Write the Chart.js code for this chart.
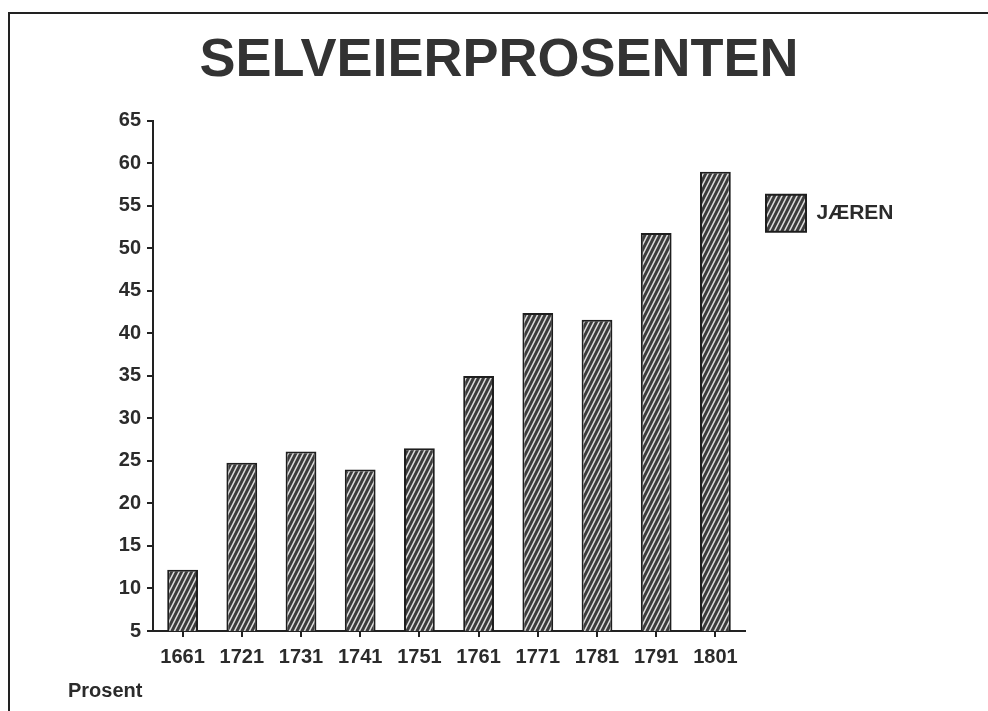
<!DOCTYPE html>
<html>
<head>
<meta charset="utf-8">
<script src="https://cdn.jsdelivr.net/npm/chart.js@4.4.1/dist/chart.umd.min.js"></script>
<style>
  html, body { margin: 0; padding: 0; background: #fff; }
  #wrap { width: 988px; height: 711px; position: relative; }
</style>
</head>
<body>
<div id="wrap"><canvas id="c" width="988" height="711"></canvas></div>
<script>
const titleText = 'SELVEIERPROSENTEN';
const categories = ['1661', '1721', '1731', '1741', '1751', '1761', '1771', '1781', '1791', '1801'];
const seriesName = 'JÆREN';
const values = [12.2, 24.8, 26.1, 24.0, 26.5, 35.0, 42.4, 41.6, 51.8, 59.0];
const yTicks = { min: 5, max: 65, step: 5 };
const axisNote = 'Prosent';

const ink = '#2b2b2b';
const fontFam = '"Liberation Sans", Arial, Helvetica, sans-serif';

function makeHatch() {
  const w = 5, h = 10;
  const p = document.createElement('canvas');
  p.width = w; p.height = h;
  const g = p.getContext('2d');
  g.fillStyle = '#3c3c3c';
  g.fillRect(0, 0, w, h);
  g.strokeStyle = '#dcdcdc';
  g.lineWidth = 1.5;
  g.beginPath();
  for (const dx of [-w, 0, w]) {
    g.moveTo(dx - 0.5, h + 1);
    g.lineTo(dx + w + 0.5, -1);
  }
  g.stroke();
  return document.getElementById('c').getContext('2d').createPattern(p, 'repeat');
}

const framePlugin = {
  id: 'frame',
  beforeDraw(chart) {
    const ctx = chart.ctx;
    ctx.save();
    ctx.fillStyle = '#fff';
    ctx.fillRect(0, 0, chart.width, chart.height);
    ctx.strokeStyle = '#222';
    ctx.lineWidth = 2;
    ctx.beginPath();
    ctx.moveTo(9, 711);
    ctx.lineTo(9, 13);
    ctx.lineTo(988, 13);
    ctx.stroke();
    ctx.restore();
  }
};

const legendWidthPlugin = {
  id: 'legendWidth',
  beforeLayout(chart) {
    const lg = chart.legend;
    if (lg && !lg._wrappedFit) {
      const f = lg.fit;
      lg.fit = function () { f.call(this); this.width = 185; };
      lg._wrappedFit = true;
    }
  }
};

Chart.defaults.font.family = fontFam;
Chart.defaults.color = ink;

new Chart(document.getElementById('c'), {
  type: 'bar',
  data: {
    labels: categories,
    datasets: [{
      label: seriesName,
      data: values,
      backgroundColor: makeHatch(),
      borderColor: '#1e1e1e',
      borderWidth: 2,
      borderSkipped: false,
      barPercentage: 0.52,
      categoryPercentage: 1.0
    }]
  },
  options: {
    responsive: false,
    animation: false,
    devicePixelRatio: 1,
    layout: { padding: { left: 68, right: 58, top: 29, bottom: 6 } },
    plugins: {
      title: {
        display: true,
        text: titleText,
        color: '#333',
        font: { size: 54, weight: 'bold', family: fontFam },
        padding: { top: 0, bottom: 27 }
      },
      subtitle: {
        display: true,
        text: axisNote,
        position: 'bottom',
        align: 'start',
        color: ink,
        font: { size: 20, weight: 'bold', family: fontFam },
        padding: { top: 2, bottom: 2 }
      },
      legend: {
        display: true,
        position: 'right',
        align: 'start',
        fullSize: false,
        title: { display: true, text: '', font: { size: 10 }, padding: { top: 0, bottom: 41 } },
        labels: {
          boxWidth: 40,
          boxHeight: 37,
          padding: 21,
          color: ink,
          font: { size: 21, weight: 'bold', family: fontFam }
        }
      },
      tooltip: { enabled: false }
    },
    scales: {
      x: {
        offset: true,
        grid: { display: true, drawOnChartArea: false, drawTicks: true, tickLength: 6, offset: false, color: '#222', lineWidth: 2 },
        border: { display: true, color: '#222', width: 2 },
        ticks: { color: ink, font: { size: 20, weight: 'bold', family: fontFam }, padding: 8, maxRotation: 0, autoSkip: false }
      },
      y: {
        min: yTicks.min,
        max: yTicks.max,
        afterFit(scale) { scale.width = 85; },
        grid: { display: true, drawOnChartArea: false, drawTicks: true, tickLength: 6, color: '#222', lineWidth: 2 },
        border: { display: true, color: '#222', width: 2 },
        ticks: { stepSize: yTicks.step, color: ink, font: { size: 20, weight: 'bold', family: fontFam }, padding: 6 }
      }
    }
  },
  plugins: [framePlugin, legendWidthPlugin]
});
</script>
</body>
</html>
